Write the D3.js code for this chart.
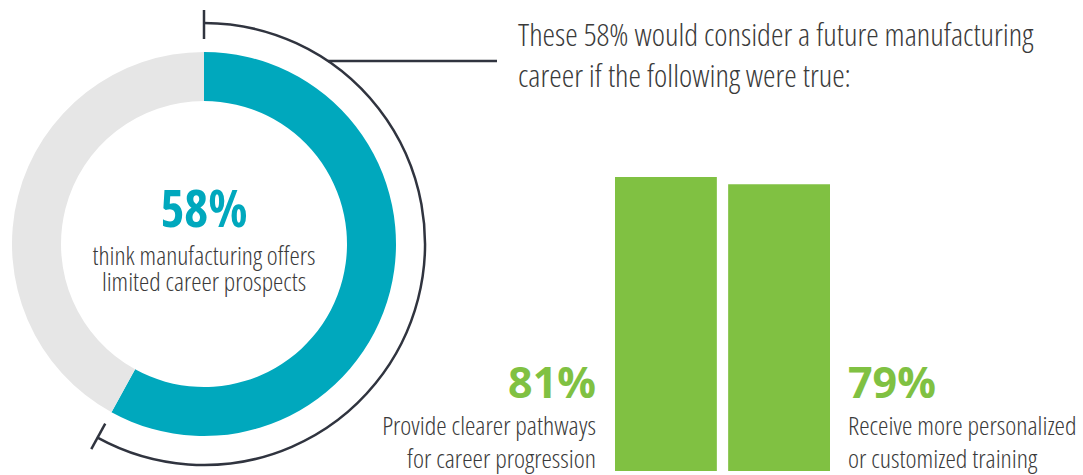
<!DOCTYPE html>
<html>
<head>
<meta charset="utf-8">
<script src="https://cdn.jsdelivr.net/npm/d3@7"></script>
<style>
  body { margin: 0; background: #fff; }
  svg text { font-family: "Open Sans", sans-serif; font-stretch: 75%; }
  svg text.big { font-weight: 700; }
  svg text.big.wide { font-stretch: 100%; }
</style>
</head>
<body>
<svg id="chart" width="1083" height="475"></svg>
<script>
// donut share: those who think careers are limited vs the rest
const donutLabels = ["limited", "other"];
const donutValues = [58, 42];

// bars for the 58% group
const barLabels = [
  ["Provide clearer pathways", "for career progression"],
  ["Receive more personalized", "or customized training"]
];
const barValues = [81, 79];

const headline = ["These 58% would consider a future manufacturing", "career if the following were true:"];
const centerText = ["think manufacturing offers", "limited career prospects"];

const svg = d3.select("#chart");

const teal = "#00a8bd", grey = "#e6e6e6", green = "#80c142", ink = "#30343f";

// ---- donut ----
const cx = 204, cy = 244;
const donut = svg.append("g").attr("transform", `translate(${cx},${cy})`);

const pie = d3.pie().sort(null).value(d => d);
const arc = d3.arc().innerRadius(143).outerRadius(192);

donut.selectAll("path.slice")
  .data(pie(donutValues))
  .enter()
  .append("path")
  .attr("class", "slice")
  .attr("d", arc)
  .attr("fill", (d, i) => i === 0 ? teal : grey);

// bracket arc around the 58% slice
const bracketR = 221;
const share = pie(donutValues)[0];
const p = d3.path();
p.arc(0, 0, bracketR, share.startAngle - Math.PI / 2, share.endAngle - Math.PI / 2);
donut.append("path")
  .attr("d", p.toString())
  .attr("fill", "none")
  .attr("stroke", ink)
  .attr("stroke-width", 2.5);

// end ticks on the bracket
[share.startAngle, share.endAngle].forEach(a => {
  donut.append("line")
    .attr("x1", Math.sin(a) * 205).attr("y1", -Math.cos(a) * 205)
    .attr("x2", Math.sin(a) * 234).attr("y2", -Math.cos(a) * 234)
    .attr("stroke", ink)
    .attr("stroke-width", 2.5);
});

// leader line to the headline
const leadY = 61;
const leadX = Math.sqrt(bracketR * bracketR - (cy - leadY) * (cy - leadY));
svg.append("line")
  .attr("x1", cx + leadX).attr("y1", leadY)
  .attr("x2", 497).attr("y2", leadY)
  .attr("stroke", ink)
  .attr("stroke-width", 2.5);

// center text
donut.append("text")
  .attr("class", "big")
  .attr("text-anchor", "middle")
  .attr("y", -17)
  .attr("fill", teal)
  .style("font-size", "51px")
  .text(donutValues[0] + "%");

donut.selectAll("text.sub")
  .data(centerText)
  .enter()
  .append("text")
  .attr("class", "sub")
  .attr("text-anchor", "middle")
  .attr("y", (d, i) => 21 + i * 26)
  .attr("fill", "#3a3a3a")
  .style("font-size", "26px")
  .style("font-weight", 300)
  .text(d => d);

// headline
svg.selectAll("text.head")
  .data(headline)
  .enter()
  .append("text")
  .attr("class", "head")
  .attr("x", 518)
  .attr("y", (d, i) => 46 + i * 41)
  .attr("fill", "#3a3a3a")
  .style("font-size", "31.6px")
  .style("font-weight", 300)
  .text(d => d);

// ---- bars ----
const x = d3.scaleBand().domain(d3.range(barValues.length)).range([615, 830]).paddingInner(0.1);
const y = d3.scaleLinear().domain([0, d3.max(barValues)]).range([471, 177]);

svg.selectAll("rect.bar")
  .data(barValues)
  .enter()
  .append("rect")
  .attr("class", "bar")
  .attr("x", (d, i) => x(i))
  .attr("y", d => y(d))
  .attr("width", x.bandwidth())
  .attr("height", d => y(0) - y(d))
  .attr("fill", green);

// bar labels: first one on the left, second on the right
barValues.forEach((v, i) => {
  const left = i === 0;
  const lx = left ? x(i) - 19 : x(i) + x.bandwidth() + 18;
  const anchor = left ? "end" : "start";
  const g = svg.append("g");
  g.append("text")
    .attr("class", "big wide")
    .attr("x", lx).attr("y", 398)
    .attr("text-anchor", anchor)
    .attr("fill", green)
    .style("font-size", "43px")
    .text(v + "%");
  g.selectAll("text.lbl")
    .data(barLabels[i])
    .enter()
    .append("text")
    .attr("class", "lbl")
    .attr("x", lx)
    .attr("y", (d, j) => 435 + j * 33)
    .attr("text-anchor", anchor)
    .attr("fill", "#3a3a3a")
    .style("font-size", "26.3px")
    .style("font-weight", 300)
    .text(d => d);
});
</script>
</body>
</html>
